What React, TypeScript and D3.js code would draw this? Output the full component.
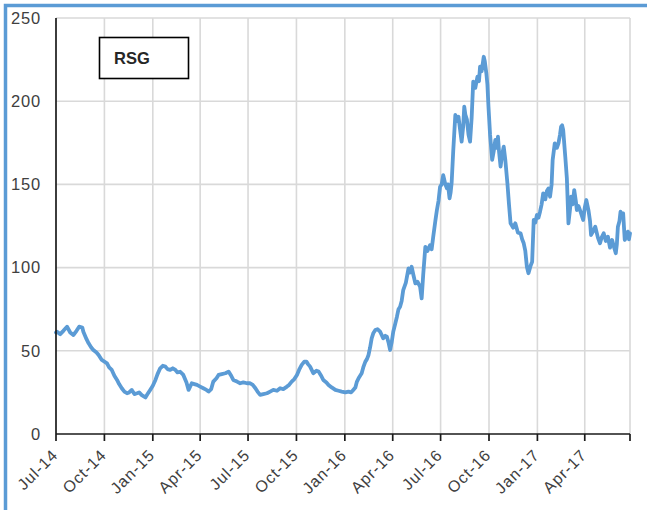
import React from "react";
import * as d3 from "d3";

// RSG price history (date, value)
const dates: string[] = [
  "2014-07-01","2014-07-03","2014-07-09","2014-07-15","2014-07-22","2014-07-28","2014-08-03","2014-08-09","2014-08-14","2014-08-20",
  "2014-08-22","2014-08-28","2014-09-01","2014-09-06","2014-09-10","2014-09-16","2014-09-20","2014-09-26","2014-10-01","2014-10-06",
  "2014-10-10","2014-10-15","2014-10-20","2014-10-25","2014-10-29","2014-11-03","2014-11-08","2014-11-13","2014-11-17","2014-11-22",
  "2014-11-27","2014-12-02","2014-12-06","2014-12-11","2014-12-18","2014-12-22","2014-12-27","2015-01-01","2015-01-06","2015-01-10",
  "2015-01-15","2015-01-20","2015-01-25","2015-01-29","2015-02-03","2015-02-08","2015-02-13","2015-02-17","2015-02-22","2015-02-28",
  "2015-03-06","2015-03-10","2015-03-16","2015-03-21","2015-03-26","2015-04-01","2015-04-07","2015-04-13","2015-04-17","2015-04-22",
  "2015-04-26","2015-05-02","2015-05-06","2015-05-12","2015-05-19","2015-05-25","2015-05-30","2015-06-03","2015-06-10","2015-06-16",
  "2015-06-22","2015-06-29","2015-07-05","2015-07-10","2015-07-15","2015-07-19","2015-07-24","2015-07-30","2015-08-06","2015-08-12",
  "2015-08-18","2015-08-25","2015-08-31","2015-09-06","2015-09-13","2015-09-17","2015-09-22","2015-09-27","2015-10-02","2015-10-06",
  "2015-10-11","2015-10-16","2015-10-20","2015-10-23","2015-10-27","2015-11-02","2015-11-08","2015-11-12","2015-11-17","2015-11-21",
  "2015-11-27","2015-12-01","2015-12-07","2015-12-14","2015-12-20","2015-12-26","2016-01-02","2016-01-08","2016-01-13","2016-01-17",
  "2016-01-21","2016-01-24","2016-01-28","2016-02-02","2016-02-05","2016-02-09","2016-02-12","2016-02-15","2016-02-18","2016-02-21",
  "2016-02-24","2016-02-28","2016-03-03","2016-03-08","2016-03-11","2016-03-14","2016-03-18","2016-03-21","2016-03-24","2016-03-27",
  "2016-03-30","2016-04-02","2016-04-06","2016-04-09","2016-04-12","2016-04-15","2016-04-18","2016-04-21","2016-04-26","2016-05-01",
  "2016-05-04","2016-05-07","2016-05-10","2016-05-14","2016-05-18","2016-05-23","2016-05-26","2016-05-29","2016-06-02","2016-06-06",
  "2016-06-11","2016-06-14","2016-06-17","2016-06-21","2016-06-24","2016-06-27","2016-06-30","2016-07-03","2016-07-06","2016-07-10",
  "2016-07-13","2016-07-15","2016-07-18","2016-07-20","2016-07-22","2016-07-25","2016-07-29","2016-08-01","2016-08-04","2016-08-07",
  "2016-08-10","2016-08-13","2016-08-15","2016-08-17","2016-08-20","2016-08-23","2016-08-26","2016-08-29","2016-09-01","2016-09-05",
  "2016-09-09","2016-09-12","2016-09-14","2016-09-17","2016-09-21","2016-09-23","2016-09-26","2016-09-28","2016-09-30","2016-10-03",
  "2016-10-07","2016-10-10","2016-10-13","2016-10-16","2016-10-18","2016-10-20","2016-10-23","2016-10-26","2016-10-29","2016-11-01",
  "2016-11-05","2016-11-08","2016-11-11","2016-11-16","2016-11-20","2016-11-25","2016-11-30","2016-12-03","2016-12-06","2016-12-09",
  "2016-12-12","2016-12-15","2016-12-19","2016-12-22","2016-12-25","2016-12-28","2016-12-31","2017-01-03","2017-01-06","2017-01-09",
  "2017-01-12","2017-01-16","2017-01-19","2017-01-22","2017-01-25","2017-01-28","2017-01-30","2017-02-03","2017-02-07","2017-02-10",
  "2017-02-13","2017-02-15","2017-02-17","2017-02-19","2017-02-23","2017-02-26","2017-03-01","2017-03-04","2017-03-06","2017-03-09",
  "2017-03-12","2017-03-15","2017-03-17","2017-03-20","2017-03-24","2017-03-29","2017-04-01","2017-04-04","2017-04-08","2017-04-11",
  "2017-04-13","2017-04-17","2017-04-21","2017-04-26","2017-04-30","2017-05-03","2017-05-07","2017-05-11","2017-05-15","2017-05-19",
  "2017-05-23","2017-05-26","2017-05-30","2017-06-01","2017-06-03","2017-06-06","2017-06-08","2017-06-11","2017-06-13","2017-06-16",
  "2017-06-19","2017-06-22","2017-06-24","2017-06-26",
];

const prices: number[] = [
  61, 61.5, 60, 62, 64.5, 61, 59.5, 62, 64.5, 64,
  61.5, 57, 54.5, 52, 50.5, 49, 47.5, 44.5, 43.5, 42.5,
  40, 38.5, 35, 32.5, 30, 27.5, 25.5, 24.5, 25, 26.5,
  24, 24.5, 25, 23.4, 22, 24, 26.5, 29, 32.5, 36,
  39.5, 41, 40.5, 39, 38.5, 39.5, 38.5, 37, 37.4, 35.5,
  31, 26.5, 30.5, 30, 29.5, 28.5, 27.5, 26.5, 25.5, 27,
  31.5, 33.5, 35.5, 36, 36.5, 37.5, 35, 32.5, 31.5, 30.5,
  31, 30.5, 30.5, 29.5, 27.5, 25.5, 23.5, 24, 24.5, 25.5,
  26.5, 26, 27.5, 27, 28.5, 29.5, 31.5, 33, 35.5, 38.5,
  41.5, 43.5, 43.5, 42, 40.5, 36.5, 38, 37.5, 35, 32.5,
  31, 29.5, 28, 26.5, 26, 25.5, 25, 25.5, 25, 26.5,
  28, 31.5, 34, 36.5, 40, 43.5, 45, 47.5, 52, 57.5,
  60.5, 62.5, 63, 61.5, 59.5, 57.5, 59, 58.5, 55, 50.5,
  55, 61.5, 66.5, 70.5, 75, 76.5, 80, 86.5, 91, 99.5,
  97, 100.5, 96, 90.5, 91.5, 88.5, 81.5, 96, 112.5, 110,
  113.5, 111, 118.5, 128, 134.6, 140, 148.6, 150, 155.6, 150,
  147.6, 150, 141.6, 145, 151, 170, 191.7, 188, 190.7, 183,
  175.7, 185, 196.7, 192, 189, 180, 175.7, 190, 211.7, 208,
  214.7, 212, 220.7, 218, 226.7, 224, 216.7, 210, 196.7, 180,
  164.7, 170, 176.7, 172, 178.7, 170, 160.7, 168, 172.7, 164.7,
  150.6, 138, 126.6, 124, 126.6, 121, 120.6, 117, 114.6, 110,
  100.5, 96.6, 101, 103.5, 128.6, 127, 131.6, 130, 133.6, 138,
  144.6, 141, 146, 147.6, 142.6, 150, 164.7, 174.7, 172, 174.7,
  180, 184.7, 185.5, 182.7, 166.6, 153.6, 126.6, 135, 142.6, 138,
  146.6, 140, 134.6, 137, 133.6, 128.6, 136, 140.6, 134.6, 128,
  119.6, 122, 124.6, 118, 114.6, 118, 120.6, 116, 118.6, 112,
  116.6, 113, 108.6, 114, 124.6, 128, 133.6, 130, 132.6, 116.6,
  119, 121.6, 117, 120.6,
];

const tickDates: string[] = [
  "2014-07-01","2014-10-01","2015-01-01","2015-04-01","2015-07-01","2015-10-01",
  "2016-01-01","2016-04-01","2016-07-01","2016-10-01","2017-01-01","2017-04-01",
];
const yTicks: number[] = [0, 50, 100, 150, 200, 250];
const seriesName = "RSG";

const W = 647;
const H = 510;
const M = { left: 56, right: 630, top: 18, bottom: 434 };
const FONT = "'Liberation Sans', Arial, sans-serif";
const BLUE = "#5B9BD5";

export default function App() {
  const parse = d3.timeParse("%Y-%m-%d");
  const fmt = d3.timeFormat("%b-%y");
  const data = dates.map((d, i) => ({ date: parse(d) as Date, value: prices[i] }));

  const x = d3
    .scaleTime()
    .domain([parse("2014-07-01") as Date, parse("2017-06-26") as Date])
    .range([M.left, M.right]);
  const y = d3.scaleLinear().domain([0, 250]).range([M.bottom, M.top]);

  const line = d3
    .line<{ date: Date; value: number }>()
    .x((d) => x(d.date))
    .y((d) => y(d.value));

  const ticks = tickDates.map((d) => parse(d) as Date);
  const gridXs = [...ticks.slice(1).map((t) => x(t)), M.right];

  return (
    <svg
      width={W}
      height={H}
      style={{ position: "absolute", left: 0, top: 0, background: "#fff" }}
    >
      <rect x={5.5} y={5.5} width={W + 20} height={H + 20} fill="#fff" stroke={BLUE} strokeWidth={3.5} />

      {/* gridlines */}
      {yTicks.slice(1).map((v) => (
        <line key={"gy" + v} x1={M.left} x2={M.right} y1={y(v)} y2={y(v)} stroke="#d9d9d9" strokeWidth={1.6} />
      ))}
      {gridXs.map((gx, i) => (
        <line key={"gx" + i} x1={gx} x2={gx} y1={M.top} y2={M.bottom} stroke="#d9d9d9" strokeWidth={1.6} />
      ))}

      {/* series */}
      <path
        d={line(data) || ""}
        fill="none"
        stroke={BLUE}
        strokeWidth={3.8}
        strokeLinejoin="round"
        strokeLinecap="round"
      />

      {/* axes */}
      <line x1={M.left} x2={M.left} y1={M.top} y2={M.bottom} stroke="#1a1a1a" strokeWidth={1.7} />
      <line x1={M.left} x2={M.right} y1={M.bottom} y2={M.bottom} stroke="#1a1a1a" strokeWidth={1.7} />
      {[...ticks.map((t) => x(t)), M.right].map((tx, i) => (
        <line key={"t" + i} x1={tx} x2={tx} y1={M.bottom} y2={M.bottom + 7} stroke="#1a1a1a" strokeWidth={1.7} />
      ))}

      {/* y labels */}
      {yTicks.map((v) => (
        <text
          key={"yl" + v}
          x={41}
          y={y(v)}
          dy="0.35em"
          textAnchor="end"
          fontFamily={FONT}
          fontSize={16.5}
          letterSpacing={0.8}
          fill="#404040"
        >
          {v}
        </text>
      ))}

      {/* x labels */}
      {ticks.map((t, i) => {
        const tx = x(t) + 3;
        const ty = M.bottom + 22;
        return (
          <text
            key={"xl" + i}
            x={tx}
            y={ty}
            textAnchor="end"
            transform={`rotate(-45 ${tx} ${ty})`}
            fontFamily={FONT}
            fontSize={16}
            letterSpacing={1}
            fill="#404040"
          >
            {fmt(t)}
          </text>
        );
      })}

      {/* legend box */}
      <rect x={99.5} y={37.5} width={89} height={41} fill="#fff" stroke="#000" strokeWidth={1.6} />
      <text x={114} y={58} dy="0.35em" fontFamily={FONT} fontSize={16.5} fontWeight="bold" fill="#262626">
        {seriesName}
      </text>
    </svg>
  );
}
